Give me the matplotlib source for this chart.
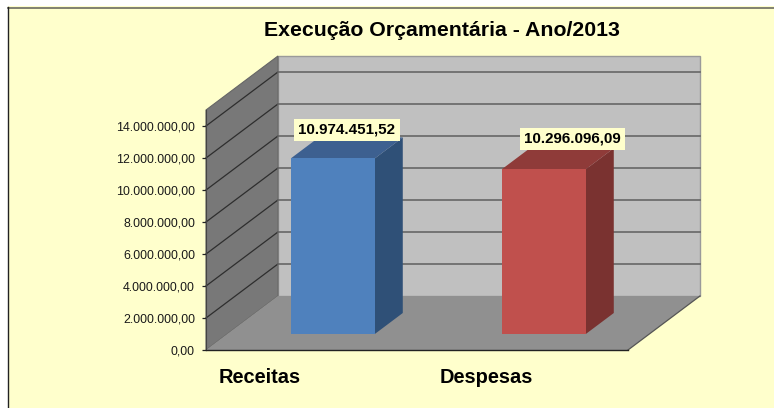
import matplotlib
matplotlib.use("Agg")
import matplotlib.pyplot as plt
from matplotlib.patches import Polygon, Rectangle

plt.rcParams["font.family"] = ["Liberation Sans", "DejaVu Sans"]

title = "Execução Orçamentária - Ano/2013"
categories = ["Receitas", "Despesas"]
values = [10974451.52, 10296096.09]
value_labels = ["10.974.451,52", "10.296.096,09"]
ticks = [0, 2000000, 4000000, 6000000, 8000000, 10000000, 12000000, 14000000]
tick_labels = ["0,00", "2.000.000,00", "4.000.000,00", "6.000.000,00",
               "8.000.000,00", "10.000.000,00", "12.000.000,00", "14.000.000,00"]

front_colors = ["#4F81BD", "#C0504D"]
side_colors = ["#2F5077", "#7A3230"]
top_colors = ["#3D6090", "#8F3B39"]

W, H = 774, 408
YMAX = 15000000
XMAX = 2
# oblique shift of the chart depth, in data units
DX = 0.341
DY = 3375000
BAR_W = 0.398
D0, D1 = 0.296, 0.685


def proj(x, d, v):
    return (x + d * DX, v + d * DY)


def poly(ax, pts, color, z, ec="none", lw=0):
    ax.add_patch(Polygon(pts, closed=True, facecolor=color, edgecolor=ec, lw=lw,
                         zorder=z, clip_on=False))


fig = plt.figure(figsize=(W / 100, H / 100), dpi=100, facecolor="white")

# outer yellow frame
fig.add_artist(Rectangle((7.5 / W, -0.01), 1.0, 1 - 6.5 / H + 0.01, transform=fig.transFigure,
                         facecolor="#FFFFCC", edgecolor="none", zorder=-3))
fig.add_artist(plt.Line2D([7.5 / W, 1], [1 - 7.5 / H] * 2, color="#77776A", lw=1.3, zorder=-2))
fig.add_artist(plt.Line2D([7.5 / W, 7.5 / W], [0, 1 - 7 / H], color="#222222", lw=1.0, zorder=-2))

ax = fig.add_axes([206 / W, 58 / H, 422 / W, 240 / H])
ax.set_xlim(0, XMAX)
ax.set_ylim(0, YMAX)
ax.patch.set_alpha(0)

# walls and floor
poly(ax, [proj(0, 1, 0), proj(XMAX, 1, 0), proj(XMAX, 1, YMAX), proj(0, 1, YMAX)],
     "#C0C0C0", 1, ec="#9A9A9A", lw=1)
poly(ax, [proj(0, 0, 0), proj(0, 1, 0), proj(0, 1, YMAX), proj(0, 0, YMAX)],
     "#787878", 1, ec="#666666", lw=0.8)
poly(ax, [proj(0, 0, 0), proj(XMAX, 0, 0), proj(XMAX, 1, 0), proj(0, 1, 0)],
     "#909090", 2)
ax.plot(*zip(proj(XMAX, 0, 0), proj(XMAX, 1, 0)), color="#555555", lw=0.9, zorder=2, clip_on=False)

# gridlines
for t in ticks[1:]:
    ax.plot(*zip(proj(0, 0, t), proj(0, 1, t)), color="#2E2E2E", lw=0.9, zorder=2, clip_on=False)
    ax.plot(*zip(proj(0, 1, t), proj(XMAX, 1, t)), color="#666666", lw=1.2, zorder=2, clip_on=False)

# bars
for i, v in enumerate(values):
    x0 = i + 0.5 - BAR_W / 2
    x1 = i + 0.5 + BAR_W / 2
    poly(ax, [proj(x1, D0, 0), proj(x1, D1, 0), proj(x1, D1, v), proj(x1, D0, v)], side_colors[i], 3)
    poly(ax, [proj(x0, D0, v), proj(x1, D0, v), proj(x1, D1, v), proj(x0, D1, v)], top_colors[i], 3)
    poly(ax, [proj(x0, D0, 0), proj(x1, D0, 0), proj(x1, D0, v), proj(x0, D0, v)], front_colors[i], 4)

# value labels, moved by hand in the original
label_off = [(0, 18), (15, 20)]
for i, v in enumerate(values):
    ax.annotate(value_labels[i], proj(i + 0.5, (D0 + D1) / 2, v), xytext=label_off[i],
                textcoords="offset pixels", ha="center", va="center", fontsize=10.9,
                fontweight="bold", color="black", zorder=6, annotation_clip=False,
                bbox=dict(boxstyle="square,pad=0.28", facecolor="#FFFFCC", edgecolor="none"))

ax.set_yticks(ticks, tick_labels, fontsize=8.9, color="#1A1A1A")
ax.tick_params(axis="y", length=3, width=0.9, pad=5, color="#222222")
ax.set_xticks([0.254, 1.327], categories, fontsize=14.4, fontweight="bold")
ax.tick_params(axis="x", length=0, pad=13)
for s in ["top", "right"]:
    ax.spines[s].set_visible(False)
ax.spines["left"].set_color("#444444")
ax.spines["left"].set_zorder(3)
ax.spines["bottom"].set_color("#222222")
ax.spines["bottom"].set_linewidth(1.0)
ax.spines["bottom"].set_zorder(3)

fig.text(441.5 / W, 1 - 30 / H, title, ha="center", va="center", fontsize=15.3, fontweight="bold")

fig.savefig("out.png", dpi=100)
